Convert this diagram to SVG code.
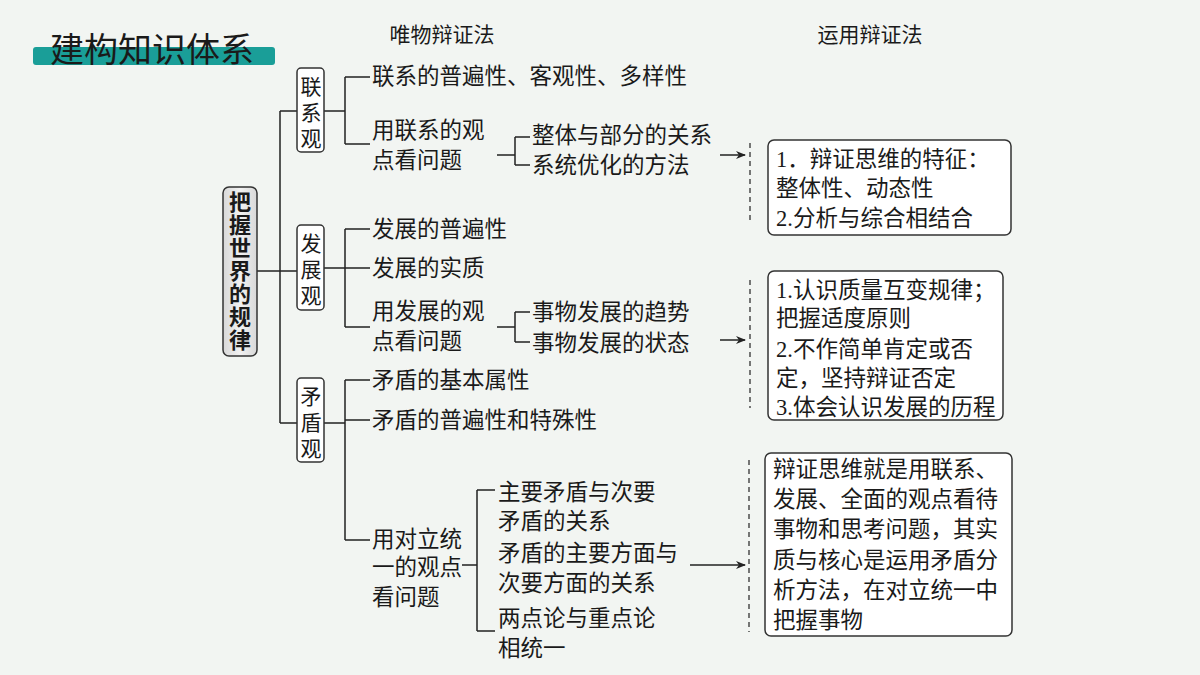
<svg xmlns="http://www.w3.org/2000/svg" width="1200" height="675" viewBox="0 0 1200 675">
<style>
text{font-family:"Liberation Serif","Noto Sans CJK SC",serif;font-size:22.5px;fill:#1a1a1a}
.ln{stroke:#222;stroke-width:1.5;fill:none}
.ds{stroke:#222;stroke-width:1.2;stroke-dasharray:5 4;fill:none}
.bx{fill:#fff;stroke:#333;stroke-width:1.5}
.v{text-anchor:middle}
.b{font-weight:bold;font-size:22px}
.s{font-size:21px}
</style>
<defs><marker id="ar" markerWidth="10" markerHeight="8" refX="9" refY="4" orient="auto" markerUnits="userSpaceOnUse"><path d="M0,0 L10,4 L0,8 L3,4 Z" fill="#222"/></marker>
<linearGradient id="g" x1="0" y1="0" x2="1" y2="0"><stop offset="0" stop-color="#d8d8d8"/><stop offset="0.5" stop-color="#f2f2f2"/><stop offset="1" stop-color="#d8d8d8"/></linearGradient></defs>
<rect width="1200" height="675" fill="#f2f5f2"/>
<g id="title"><rect x="33" y="47" width="242" height="18" rx="3" fill="#1a9e98"/><text x="50" y="62" style="font-size:34px;font-family:'Noto Sans CJK SC',sans-serif">建构知识体系</text></g>
<text x="442" y="42" class="v s">唯物辩证法</text>
<text x="870" y="42" class="v s">运用辩证法</text>
<g id="connectors">
<path class="ln" d="M257,271H280M280,111V423M280,111H297M280,271H297M280,423H297"/>
<path class="ln" d="M324,111H345M345,77V144M345,77H370M345,144H370"/>
<path class="ln" d="M497,155H515M515,137V165M515,137H530M515,165H530"/>
<path class="ln" d="M324,268H370M345,229V327M345,229H370M345,327H370"/>
<path class="ln" d="M497,327H515M515,312V342M515,312H530M515,342H530"/>
<path class="ln" d="M324,423H345M345,380V540M345,380H370M345,420H370M345,540H370"/>
<path class="ln" d="M462,565H477M477,490V631M477,490H495M477,631H495"/>
<path class="ln" d="M720,155H745" marker-end="url(#ar)"/>
<path class="ln" d="M720,340H745" marker-end="url(#ar)"/>
<path class="ln" d="M690,565H745" marker-end="url(#ar)"/>
<path class="ds" d="M750,143V222M750,280V408M749,460V632"/>
</g>
<g id="root"><rect x="223" y="187" width="34" height="169" rx="6" fill="url(#g)" stroke="#333" stroke-width="1.5"/>
<text class="v b" x="240" y="210">把</text><text class="v b" x="240" y="233">握</text><text class="v b" x="240" y="256">世</text><text class="v b" x="240" y="279">界</text><text class="v b" x="240" y="302">的</text><text class="v b" x="240" y="325">规</text><text class="v b" x="240" y="348">律</text></g>
<g id="lianxi"><rect x="297" y="68" width="27" height="84" rx="4" class="bx"/><text class="v s" x="311" y="94">联</text><text class="v s" x="311" y="120">系</text><text class="v s" x="311" y="146">观</text></g>
<g id="fazhan"><rect x="297" y="225" width="27" height="85" rx="4" class="bx"/><text class="v s" x="311" y="251">发</text><text class="v s" x="311" y="277">展</text><text class="v s" x="311" y="303">观</text></g>
<g id="maodun"><rect x="297" y="378" width="27" height="84" rx="4" class="bx"/><text class="v s" x="311" y="404">矛</text><text class="v s" x="311" y="430">盾</text><text class="v s" x="311" y="456">观</text></g>
<g id="t1">
<text x="372" y="84">联系的普遍性、客观性、多样性</text>
<text x="372" y="138">用联系的观</text><text x="372" y="168">点看问题</text>
<text x="532" y="143">整体与部分的关系</text><text x="532" y="173">系统优化的方法</text>
<text x="372" y="237">发展的普遍性</text><text x="372" y="276">发展的实质</text>
<text x="372" y="319">用发展的观</text><text x="372" y="349">点看问题</text>
<text x="532" y="320">事物发展的趋势</text><text x="532" y="351">事物发展的状态</text>
<text x="372" y="388">矛盾的基本属性</text><text x="372" y="428">矛盾的普遍性和特殊性</text>
<text x="372" y="547">用对立统</text><text x="372" y="575">一的观点</text><text x="372" y="605">看问题</text>
<text x="498" y="500">主要矛盾与次要</text><text x="498" y="529">矛盾的关系</text>
<text x="498" y="561">矛盾的主要方面与</text><text x="498" y="591">次要方面的关系</text>
<text x="498" y="626">两点论与重点论</text><text x="498" y="656">相统一</text>
</g>
<g id="box1"><rect x="768" y="140" width="243" height="95" rx="6" class="bx"/>
<text x="776" y="167">1．辩证思维的特征：</text><text x="776" y="196">整体性、动态性</text><text x="776" y="226">2.分析与综合相结合</text></g>
<g id="box2"><rect x="768" y="271" width="235" height="149" rx="6" class="bx"/>
<text x="776" y="298">1.认识质量互变规律；</text><text x="776" y="326">把握适度原则</text><text x="776" y="357">2.不作简单肯定或否</text><text x="776" y="386">定，坚持辩证否定</text><text x="776" y="415">3.体会认识发展的历程</text></g>
<g id="box3"><rect x="765" y="453" width="247" height="183" rx="6" class="bx"/>
<text x="773" y="477">辩证思维就是用联系、</text><text x="773" y="507">发展、全面的观点看待</text><text x="773" y="537">事物和思考问题，其实</text><text x="773" y="568">质与核心是运用矛盾分</text><text x="773" y="598">析方法，在对立统一中</text><text x="773" y="628">把握事物</text></g>
</svg>
